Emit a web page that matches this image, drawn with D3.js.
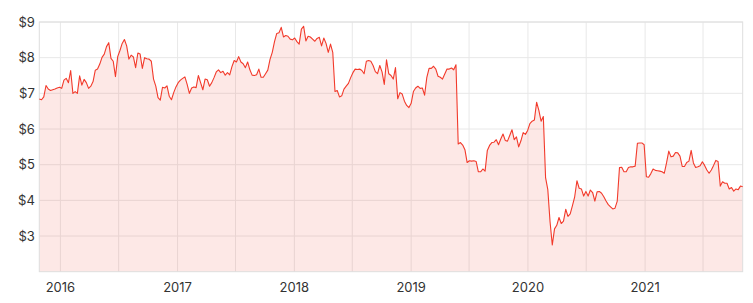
<!DOCTYPE html>
<html>
<head>
<meta charset="utf-8">
<script src="https://cdn.jsdelivr.net/npm/d3@7"></script>
<style>
  body { margin: 0; background: #fff; }
  .axis text { font-family: Inter, "Open Sans", sans-serif; font-size: 13px; fill: #333; }
</style>
</head>
<body>
<svg id="chart" width="753" height="303"></svg>
<script>
// weekly closing prices, first week starting 2015-10-27
var startDate = "2015-10-27";
var prices = [
  6.84, 6.82, 6.90, 7.22, 7.12, 7.08, 7.10, 7.12, 7.15, 7.17,
  7.14, 7.37, 7.42, 7.30, 7.64, 7.00, 7.05, 7.00, 7.49, 7.23,
  7.39, 7.30, 7.14, 7.20, 7.33, 7.65, 7.68, 7.82, 8.01, 8.10,
  8.31, 8.42, 7.98, 7.90, 7.47, 8.03, 8.20, 8.40, 8.51, 8.33,
  7.96, 8.07, 8.02, 7.72, 8.13, 8.10, 7.70, 8.00, 7.97, 7.96,
  7.90, 7.40, 7.20, 6.88, 6.81, 7.17, 7.15, 7.21, 6.92, 6.82,
  7.02, 7.18, 7.30, 7.37, 7.42, 7.46, 7.25, 7.00, 7.15, 7.18,
  7.16, 7.50, 7.30, 7.10, 7.40, 7.38, 7.20, 7.30, 7.44, 7.60,
  7.66, 7.58, 7.62, 7.51, 7.58, 7.52, 7.75, 7.92, 7.88, 8.03,
  7.88, 7.83, 7.72, 7.88, 7.66, 7.51, 7.50, 7.52, 7.68, 7.45,
  7.45, 7.55, 7.65, 7.95, 8.15, 8.45, 8.68, 8.70, 8.85, 8.58,
  8.62, 8.60, 8.52, 8.50, 8.55, 8.45, 8.38, 8.80, 8.88, 8.47,
  8.60, 8.58, 8.52, 8.46, 8.54, 8.57, 8.33, 8.55, 8.40, 8.15,
  8.38, 8.15, 7.05, 7.08, 6.90, 6.93, 7.12, 7.20, 7.28, 7.44,
  7.58, 7.68, 7.67, 7.68, 7.64, 7.55, 7.90, 7.92, 7.90, 7.78,
  7.61, 7.55, 7.78, 7.60, 7.25, 7.94, 7.55, 7.50, 7.40, 7.72,
  6.85, 7.02, 6.98, 6.78, 6.66, 6.60, 6.72, 7.05, 7.15, 7.20,
  7.14, 7.15, 6.95, 7.45, 7.70, 7.70, 7.76, 7.68, 7.48, 7.45,
  7.40, 7.54, 7.68, 7.68, 7.71, 7.66, 7.80, 5.58, 5.62, 5.55,
  5.42, 5.06, 5.11, 5.10, 5.11, 5.09, 4.80, 4.80, 4.88, 4.82,
  5.40, 5.54, 5.62, 5.63, 5.70, 5.56, 5.72, 5.86, 5.68, 5.66,
  5.82, 5.98, 5.70, 5.78, 5.50, 5.67, 5.90, 5.85, 5.96, 6.15,
  6.22, 6.25, 6.75, 6.52, 6.22, 6.35, 4.64, 4.30, 3.40, 2.75,
  3.20, 3.30, 3.52, 3.35, 3.42, 3.75, 3.55, 3.62, 3.85, 4.10,
  4.55, 4.34, 4.32, 4.12, 4.25, 4.12, 4.29, 4.22, 3.98, 4.24,
  4.25, 4.20, 4.10, 3.98, 3.88, 3.82, 3.76, 3.78, 3.98, 4.92,
  4.93, 4.80, 4.80, 4.92, 4.94, 4.94, 4.96, 5.60, 5.61, 5.61,
  5.56, 4.66, 4.65, 4.75, 4.88, 4.84, 4.83, 4.82, 4.80, 4.76,
  5.05, 5.38, 5.22, 5.24, 5.34, 5.33, 5.24, 4.95, 4.95, 5.06,
  5.10, 5.40, 5.05, 4.92, 4.94, 4.97, 5.08, 4.98, 4.85, 4.76,
  4.85, 4.98, 5.12, 5.09, 4.40, 4.52, 4.48, 4.48, 4.32, 4.36,
  4.26, 4.32, 4.30, 4.40, 4.38
];
var yTicks = [3, 4, 5, 6, 7, 8, 9];
var yearTicks = ["2016", "2017", "2018", "2019", "2020", "2021"];

var svg = d3.select("#chart"),
    margin = {top: 22, right: 10.3, bottom: 31.3, left: 39.3},
    width = +svg.attr("width") - margin.left - margin.right,
    height = +svg.attr("height") - margin.top - margin.bottom;

var parseDate = d3.timeParse("%Y-%m-%d");
var start = parseDate(startDate);
var data = prices.map(function(p, i) {
  return {date: d3.timeWeek.offset(start, i), price: p};
});

var x = d3.scaleTime()
    .domain(d3.extent(data, function(d) { return d.date; }))
    .range([0, width]);
var y = d3.scaleLinear().domain([2, 9]).range([height, 0]);

var g = svg.append("g")
    .attr("transform", "translate(" + margin.left + "," + margin.top + ")");

// grid: horizontal at each dollar, vertical every half year
g.append("g")
    .attr("class", "grid")
    .selectAll("line.h")
    .data(yTicks)
    .enter().append("line")
    .attr("x1", 0).attr("x2", width)
    .attr("y1", function(d) { return y(d); })
    .attr("y2", function(d) { return y(d); })
    .attr("stroke", "#e8e8e8");

g.select(".grid")
    .selectAll("line.v")
    .data(d3.timeMonth.every(6).range(x.domain()[0], x.domain()[1]))
    .enter().append("line")
    .attr("x1", function(d) { return x(d); })
    .attr("x2", function(d) { return x(d); })
    .attr("y1", 0).attr("y2", height)
    .attr("stroke", "#e8e8e8");

var area = d3.area()
    .x(function(d) { return x(d.date); })
    .y0(height)
    .y1(function(d) { return y(d.price); });

var line = d3.line()
    .x(function(d) { return x(d.date); })
    .y(function(d) { return y(d.price); });

g.append("path")
    .datum(data)
    .attr("fill", "rgba(242, 90, 75, 0.14)")
    .attr("d", area);

g.append("rect")
    .attr("width", width).attr("height", height)
    .attr("fill", "none")
    .attr("stroke", "#dedede");

g.append("path")
    .datum(data)
    .attr("fill", "none")
    .attr("stroke", "#f23a2b")
    .attr("stroke-width", 1.1)
    .attr("stroke-linejoin", "round")
    .attr("d", line);

// y labels
g.append("g")
    .attr("class", "axis")
    .selectAll("text")
    .data(yTicks)
    .enter().append("text")
    .attr("x", -4.5)
    .attr("y", function(d) { return y(d); })
    .attr("dy", "0.36em")
    .attr("text-anchor", "end")
    .text(function(d) { return "$" + d; });

// year labels
g.append("g")
    .attr("class", "axis")
    .selectAll("text")
    .data(yearTicks)
    .enter().append("text")
    .attr("x", function(d) { return x(parseDate(d + "-01-01")); })
    .attr("y", height + 16)
    .attr("dy", "0.36em")
    .attr("text-anchor", "middle")
    .text(function(d) { return d; });
</script>
</body>
</html>
